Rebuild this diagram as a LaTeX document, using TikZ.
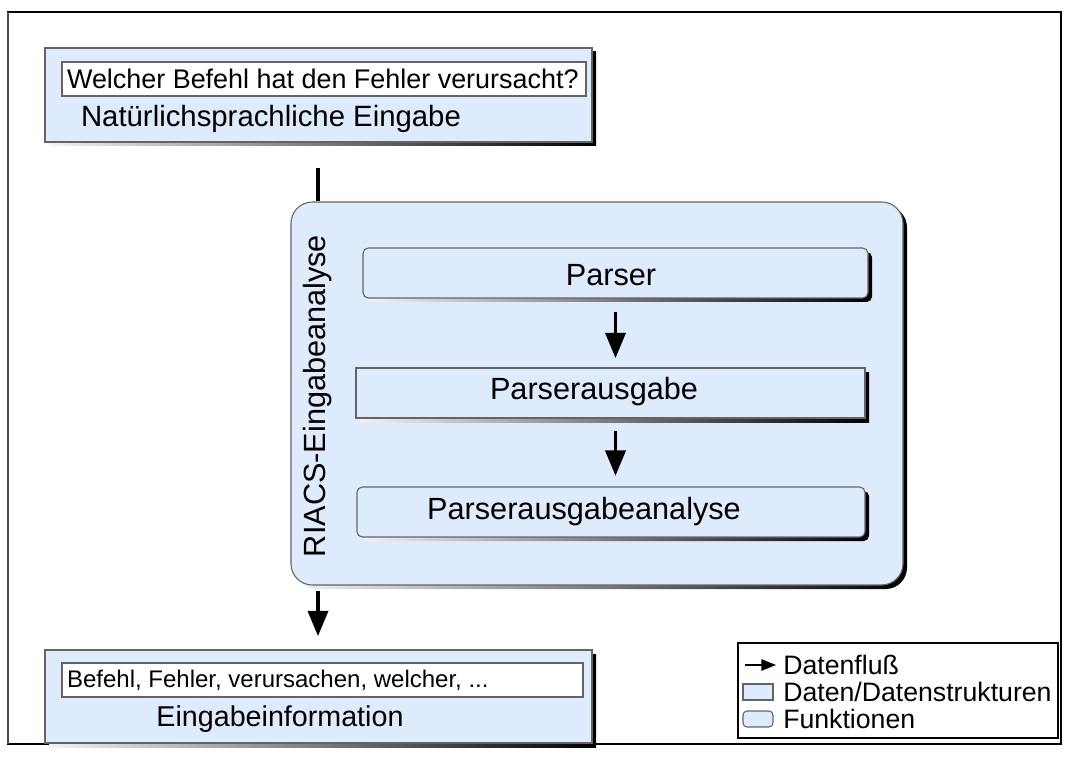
\documentclass[tikz,border=0pt]{standalone}
\usepackage{fontspec}
\setmainfont{Liberation Sans}
\usetikzlibrary{arrows.meta,fit}
\definecolor{boxblue}{RGB}{221,235,253}
\definecolor{edgegray}{RGB}{100,100,100}
\newcommand\setfs[1]{\fontsize{#1}{#1}\selectfont}
\tikzset{
  panel/.style={draw=edgegray, fill=boxblue, line width=0.8pt, inner sep=0pt},
  shadowed/.style={preaction={draw=none, left color=black!5, right color=black,
      transform canvas={shift={(3pt,-3pt)}}}},
  whitebox/.style={draw=edgegray, fill=white, line width=0.8pt, inner sep=0pt},
  txt/.style={inner sep=0pt, text=black},
  flow/.style={line width=2.8pt, -{Triangle[length=19pt,width=15pt]}},
}
\begin{document}
\begin{tikzpicture}[x=0.75pt,y=-0.75pt]
\useasboundingbox (0,0) rectangle (1088,773);
% page frame
\draw[line width=0.8pt] (8,12) rectangle (1061,744);
\draw[black!70, line width=2pt] (8,12) -- (8,744);

% natural-language input
\node[panel, shadowed, fit={(45,48) (592,142)}] (inbox) {};
\node[whitebox, fit={(62,62) (586,96)}] (qbox) {};
\node[txt, anchor=west, font=\setfs{20.2}] (qtext) at ([xshift=4pt]qbox.west)
  {Welcher Befehl hat den Fehler verursacht?};
\node[txt, font=\setfs{22}] (nattext) at (271,119) {Natürlichsprachliche Eingabe};

% input analysis block
\node[panel, shadowed, rounded corners=16pt, fit={(291,202) (903,585)}] (riacs) {};
\node[txt, rotate=90, font=\setfs{23}] (riacstitle) at (318,396) {RIACS-Eingabeanalyse};

\node[panel, shadowed, rounded corners=4pt, fit={(363,248) (868,298)}] (parser) {};
\node[txt, font=\setfs{23}] (parserlabel) at (611,275) {Parser};

\node[panel, shadowed, fit={(356,368) (865,418)}] (pout) {};
\node[txt, font=\setfs{23}] (poutlabel) at (594,392) {Parserausgabe};

\node[panel, shadowed, rounded corners=4pt, fit={(357,487) (865,537)}] (pana) {};
\node[txt, font=\setfs{23}] (panalabel) at (584,512) {Parserausgabeanalyse};

% extracted information
\node[panel, shadowed, fit={(45,650) (592,743)}] (outbox) {};
\node[whitebox, fit={(62,663) (583,697)}] (kwbox) {};
\node[txt, anchor=west, font=\setfs{18}] (kwtext) at ([xshift=4pt]kwbox.west)
  {Befehl, Fehler, verursachen, welcher, ...};
\node[txt, font=\setfs{21.5}] (infotext) at (280,719) {Eingabeinformation};

% data flow
\coordinate (feed) at (318,0);
\draw[line width=2.8pt, shorten <=19pt] (inbox.south -| feed) -- (riacs.north -| feed);
\draw[flow, shorten <=10pt, shorten >=7pt] (parser.south) -- (parser.south |- pout.north);
\draw[flow, shorten <=9pt, shorten >=8pt] (pout.south -| parser.south) -- (parser.south |- pana.north);
\draw[flow, shorten <=4pt, shorten >=10pt] (riacs.south -| feed) -- (outbox.north -| feed);

% legend
\node[draw, line width=0.8pt, inner sep=0pt, fit={(738,643) (1058,738)}] (legend) {};
\coordinate (lflowa) at (745,665);
\coordinate (lflowb) at (776,665);
\draw[line width=1.2pt, -{Triangle[length=11pt,width=8.5pt]}] (lflowa) -- (lflowb);
\node[txt, anchor=west, font=\setfs{20}] (lflowtext) at (783,665) {Datenfluß};
\node[panel, fit={(743,684) (773,700)}] (ldata) {};
\node[txt, anchor=west, font=\setfs{20}] (ldatatext) at (783,692) {Daten/Datenstrukturen};
\node[panel, rounded corners=3pt, fit={(743,711) (773,727)}] (lfunc) {};
\node[txt, anchor=west, font=\setfs{20}] (lfunctext) at (783,719) {Funktionen};
\end{tikzpicture}
\end{document}
